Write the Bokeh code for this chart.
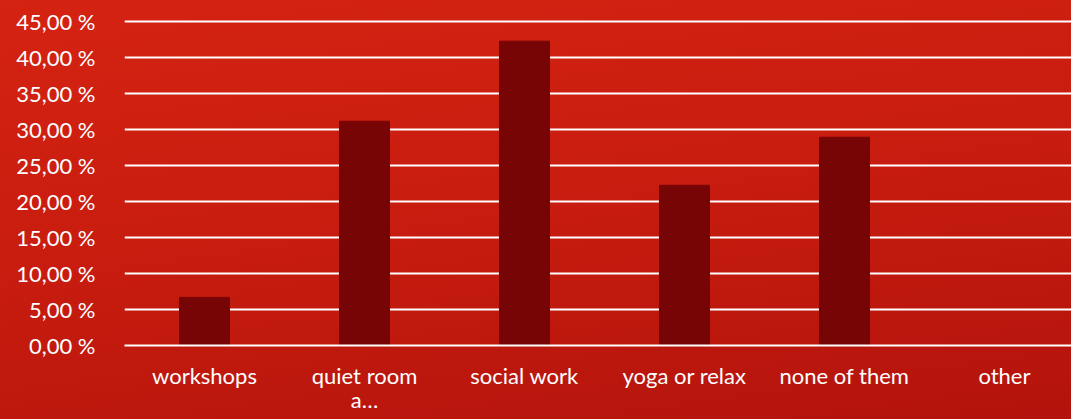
from bokeh.plotting import figure
from bokeh.models import Range1d, FixedTicker, ColumnDataSource
from bokeh.embed import file_html
from bokeh.resources import INLINE

categories = ["workshops", "quiet room\na…", "social work", "yoga or relax", "none of them", "other"]
values = [6.67, 31.11, 42.22, 22.22, 28.89, 0.0]
y_ticks = [0, 5, 10, 15, 20, 25, 30, 35, 40, 45]
y_tick_labels = ["0,00 %", "5,00 %", "10,00 %", "15,00 %", "20,00 %", "25,00 %", "30,00 %", "35,00 %", "40,00 %", "45,00 %"]

xs = [i + 0.5 for i in range(len(categories))]
src = ColumnDataSource(dict(x=xs, top=values))

FONT = "Lato"
W, H = 1071, 419

p = figure(width=W, height=H, output_backend="svg", toolbar_location=None,
           x_range=Range1d(0, 5.919), y_range=Range1d(0, 45.5),
           min_border_left=124, min_border_right=0, min_border_top=17, min_border_bottom=74)

p.styles = {"background": "linear-gradient(172deg, #d52312 0%, #c71c0f 50%, #b3130c 100%)"}
p.background_fill_alpha = 0
p.border_fill_alpha = 0
p.outline_line_color = None

p.vbar(x="x", top="top", bottom=0, width=0.3125, source=src,
       fill_color="#780505", line_color="#780505")

p.ygrid.ticker = FixedTicker(ticks=y_ticks)
p.ygrid.grid_line_color = "white"
p.ygrid.grid_line_width = 2
p.xgrid.grid_line_color = None

p.yaxis.ticker = FixedTicker(ticks=y_ticks)
p.yaxis.major_label_overrides = {t: l for t, l in zip(y_ticks, y_tick_labels)}
p.yaxis.axis_line_color = None
p.yaxis.major_tick_line_color = None
p.yaxis.minor_tick_line_color = None
p.yaxis.major_label_standoff = 23
p.yaxis.major_label_text_color = "white"
p.yaxis.major_label_text_font = FONT
p.yaxis.major_label_text_font_size = "22px"

p.xaxis.ticker = FixedTicker(ticks=xs)
p.xaxis.major_label_overrides = {x: c for x, c in zip(xs, categories)}
p.xaxis.axis_line_color = "white"
p.xaxis.axis_line_width = 2
p.xaxis.major_tick_line_color = None
p.xaxis.minor_tick_line_color = None
p.xaxis.major_label_standoff = 10
p.xaxis.major_label_text_line_height = 0.9
p.xaxis.major_label_text_color = "white"
p.xaxis.major_label_text_font = FONT
p.xaxis.major_label_text_font_size = "22px"

open("out.html", "w").write(file_html(p, INLINE))
